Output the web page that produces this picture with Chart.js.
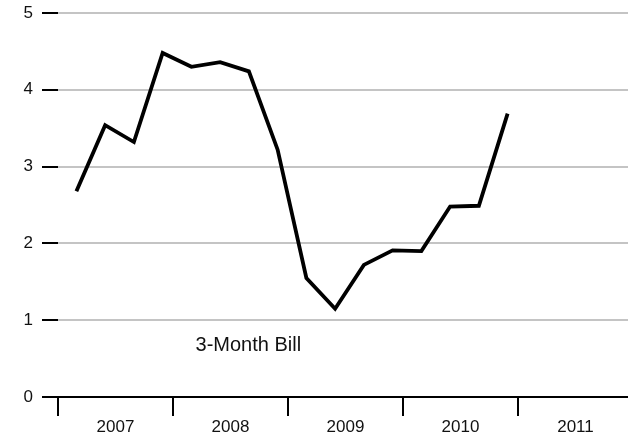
<!DOCTYPE html>
<html>
<head>
<meta charset="utf-8">
<script src="https://cdn.jsdelivr.net/npm/chart.js@4/dist/chart.umd.min.js"></script>
<style>
  html, body { margin: 0; padding: 0; background: #fff; }
  #wrap { width: 628px; height: 433px; }
</style>
</head>
<body>
<div id="wrap"><canvas id="taxa"></canvas></div>
<script>
// dados: rendimento da letra de 3 meses, trimestral
var datas = [2007.16, 2007.41, 2007.66, 2007.91,
             2008.16, 2008.41, 2008.66, 2008.91,
             2009.16, 2009.41, 2009.66, 2009.91,
             2010.16, 2010.41, 2010.66, 2010.91];
var valores = [2.68, 3.54, 3.32, 4.48,
               4.30, 4.36, 4.24, 3.22,
               1.55, 1.15, 1.72, 1.91,
               1.90, 2.48, 2.49, 3.69];
var anos = [2007, 2008, 2009, 2010, 2011];
var ticksY = [0, 1, 2, 3, 4, 5];
var rotulo = '3-Month Bill';

var fonte = '"Liberation Sans", Arial, Helvetica, sans-serif';

// texto da série dentro do gráfico
var rotuloPlugin = {
  id: 'rotulo',
  afterDatasetsDraw: function (chart) {
    var c = chart.ctx;
    var x = chart.scales.x.getPixelForValue(2008.655);
    var y = chart.scales.y.getPixelForValue(0.67);
    c.save();
    c.font = '20px ' + fonte;
    c.fillStyle = '#111';
    c.textAlign = 'center';
    c.textBaseline = 'middle';
    c.fillText(rotulo, x, y);
    c.restore();
  }
};

var ctx = taxa.getContext('2d');

var grafico = new Chart(ctx, {
  type: 'line',
  data: {
    datasets: [{
      label: rotulo,
      data: datas.map(function (d, i) { return { x: d, y: valores[i] }; }),
      borderColor: '#000',
      borderWidth: 3.8,
      pointRadius: 0,
      tension: 0,
      fill: false
    }]
  },
  options: {
    responsive: true,
    maintainAspectRatio: false,
    animation: false,
    layout: { padding: { top: 13, right: 0, left: 0, bottom: 0 } },
    plugins: {
      legend: { display: false },
      tooltip: { enabled: false }
    },
    scales: {
      x: {
        type: 'linear',
        min: 2007,
        max: 2011.957,
        afterBuildTicks: function (s) { s.ticks = anos.map(function (a) { return { value: a }; }); },
        afterFit: function (s) { s.height = 36; s.paddingLeft = 0; s.paddingRight = 0; },
        border: { display: true, color: '#000', width: 2 },
        grid: { drawOnChartArea: false, drawTicks: true, tickLength: 19, tickColor: '#000', tickWidth: 2, color: '#000', lineWidth: 2 },
        ticks: {
          autoSkip: false,
          maxRotation: 0,
          labelOffset: 57.5,
          padding: 1,
          color: '#111',
          font: { family: fonte, size: 17 },
          callback: function (v) { return String(v); }
        }
      },
      y: {
        min: 0,
        max: 5,
        afterBuildTicks: function (s) { s.ticks = ticksY.map(function (v) { return { value: v }; }); },
        afterFit: function (s) { s.width = 58; s.paddingTop = 0; s.paddingBottom = 0; },
        border: { display: false },
        grid: { color: '#c4c4c4', lineWidth: 2, drawTicks: true, tickLength: 16, tickColor: '#000', tickWidth: 2 },
        ticks: {
          padding: 9,
          color: '#111',
          font: { family: fonte, size: 17 }
        }
      }
    }
  },
  plugins: [rotuloPlugin]
});
</script>
</body>
</html>
